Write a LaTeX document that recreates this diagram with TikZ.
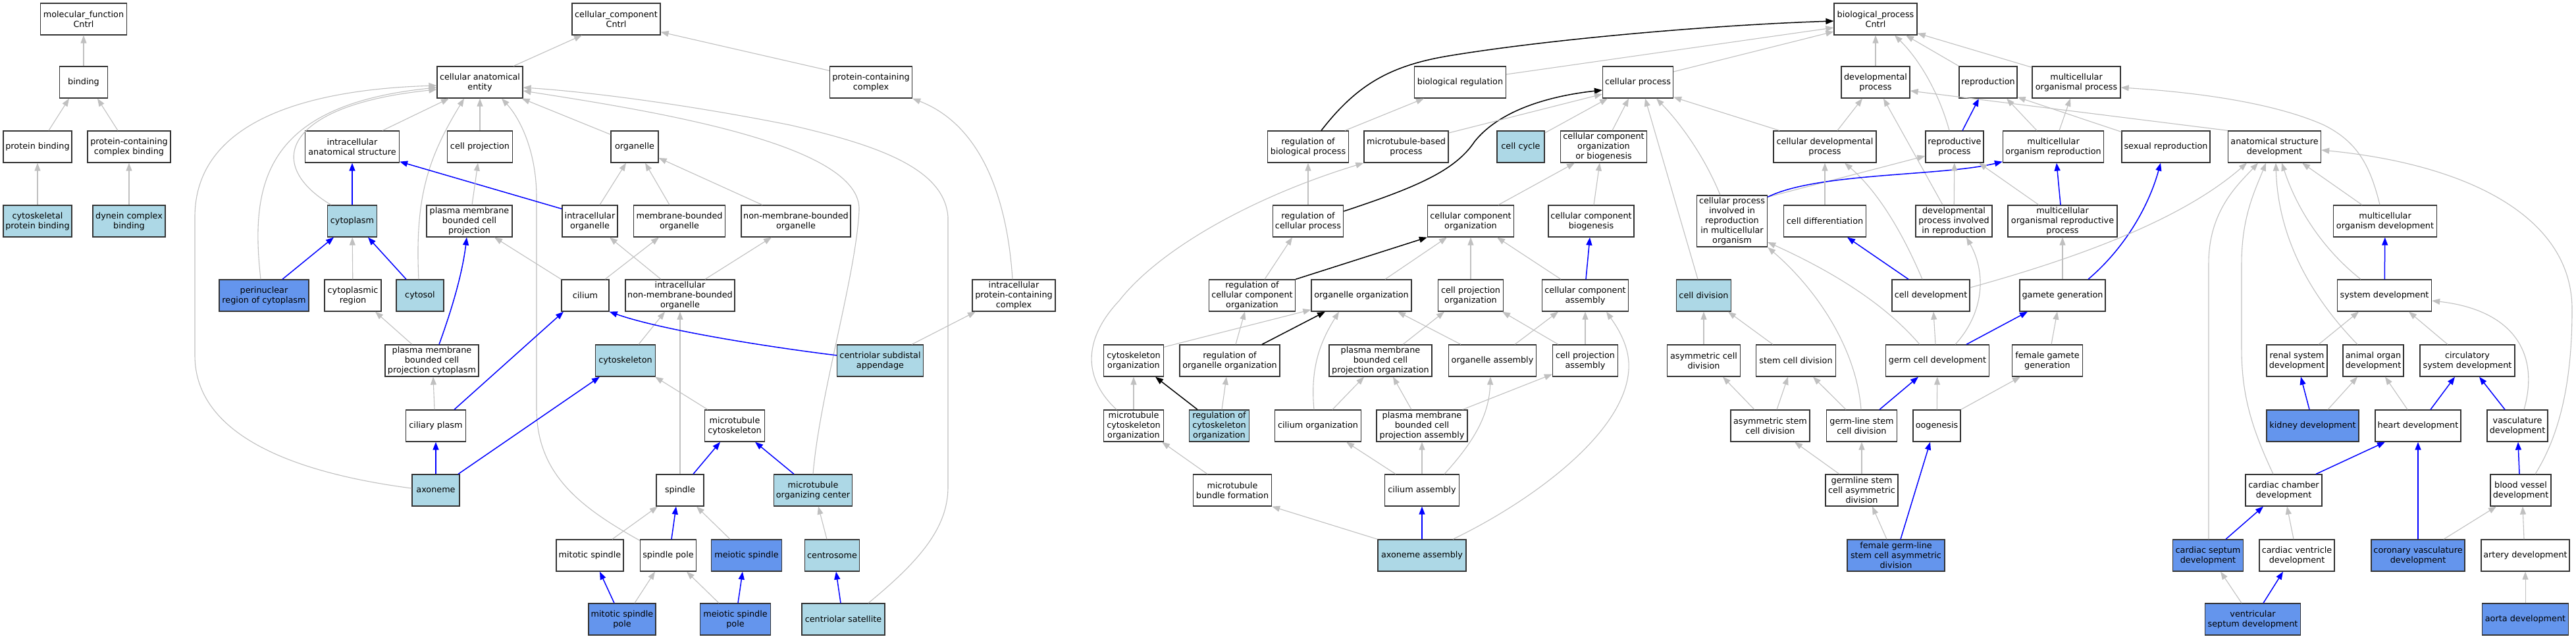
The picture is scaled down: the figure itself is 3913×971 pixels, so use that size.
\documentclass[tikz,border=0pt]{standalone}
\usepackage{fontspec}
\setmainfont{DejaVu Sans}
\usetikzlibrary{arrows.meta}
\definecolor{lblue}{HTML}{ADD8E6}
\definecolor{cblue}{HTML}{6495ED}
\definecolor{egray}{HTML}{C0C0C0}
\definecolor{bord}{HTML}{333333}
\tikzset{
  box/.style={draw=bord, line width=1.3pt, fill=white, minimum height=48pt, inner xsep=1pt, inner ysep=0pt, align=center, font=\fontsize{12.8}{15}\selectfont},
  lb/.style={box, fill=lblue},
  cb/.style={box, fill=cblue},
  ge/.style={draw=egray, line width=1.1pt, -{Triangle[length=12pt,width=9pt]}},
  be/.style={draw=blue, line width=1.5pt, -{Triangle[length=12pt,width=9pt]}},
  ke/.style={draw=black, line width=1.5pt, -{Triangle[length=12pt,width=9pt]}}
}
\begin{document}
\begin{tikzpicture}[x=1pt,y=-1pt]
\fill[white] (0,0) rectangle (3913,971);
\useasboundingbox (0,0) rectangle (3913,971);
% ---------- molecular function ----------
\node[box,minimum width=131pt] (mf) at (127,29) {molecular\_function\\Cntrl};
\node[box,minimum width=73pt] (bind) at (127,125) {binding};
\node[box,minimum width=104pt] (pb) at (57,223) {protein binding};
\node[box,minimum width=126pt] (pccb) at (196,223) {protein-containing\\complex binding};
\node[lb,minimum width=104pt] (cpb) at (57,336) {cytoskeletal\\protein binding};
\node[lb,minimum width=110pt] (dcb) at (196,336) {dynein complex\\binding};
% ---------- cellular component ----------
\node[box,minimum width=134pt] (cc) at (936,29) {cellular\_component\\Cntrl};
\node[box,minimum width=130pt] (cae) at (729,125) {cellular anatomical\\entity};
\node[box,minimum width=125pt] (pcc) at (1323,125) {protein-containing\\complex};
\node[box,minimum width=143pt] (ias) at (535,223) {intracellular\\anatomical structure};
\node[box,minimum width=99pt] (cproj) at (729,223) {cell projection};
\node[box,minimum width=72pt] (org) at (964,223) {organelle};
\node[lb,minimum width=75pt] (cyto) at (535,336) {cytoplasm};
\node[box,minimum width=130pt] (pmbcp) at (713,336) {plasma membrane\\bounded cell\\projection};
\node[box,minimum width=84pt] (io) at (896,336) {intracellular\\organelle};
\node[box,minimum width=139pt] (mbo) at (1032,336) {membrane-bounded\\organelle};
\node[box,minimum width=166pt] (nmbo) at (1209,336) {non-membrane-bounded\\organelle};
\node[cb,minimum width=136pt] (peri) at (401,449) {perinuclear\\region of cytoplasm};
\node[box,minimum width=86pt] (creg) at (536,449) {cytoplasmic\\region};
\node[lb,minimum width=72pt] (cytosol) at (638,449) {cytosol};
\node[box,minimum width=72pt] (cilium) at (889,449) {cilium};
\node[box,minimum width=166pt] (inmbo) at (1033,449) {intracellular\\non-membrane-bounded\\organelle};
\node[box,minimum width=126pt] (ipcc) at (1540,449) {intracellular\\protein-containing\\complex};
\node[box,minimum width=142pt] (pmbcpc) at (656,548) {plasma membrane\\bounded cell\\projection cytoplasm};
\node[lb,minimum width=91pt] (csk) at (950,548) {cytoskeleton};
\node[lb,minimum width=131pt] (csa) at (1337,548) {centriolar subdistal\\appendage};
\node[box,minimum width=91pt] (cplasm) at (662,647) {ciliary plasm};
\node[box,minimum width=91pt] (mtc) at (1116,647) {microtubule\\cytoskeleton};
\node[lb,minimum width=72pt] (axo) at (662,745) {axoneme};
\node[box,minimum width=72pt] (spindle) at (1033,745) {spindle};
\node[lb,minimum width=119pt] (mtoc) at (1235,745) {microtubule\\organizing center};
\node[box,minimum width=102pt] (mitsp) at (896,844) {mitotic spindle};
\node[box,minimum width=85pt] (sppole) at (1015,844) {spindle pole};
\node[cb,minimum width=107pt] (meisp) at (1134,844) {meiotic spindle};
\node[lb,minimum width=83pt] (csome) at (1264,844) {centrosome};
\node[cb,minimum width=102pt] (mitspp) at (945,941) {mitotic spindle\\pole};
\node[cb,minimum width=107pt] (meispp) at (1117,941) {meiotic spindle\\pole};
\node[lb,minimum width=126pt] (csat) at (1281,941) {centriolar satellite};
% ---------- biological process ----------
\node[box,minimum width=126pt] (bp) at (2849,29) {biological\_process\\Cntrl};
\node[box,minimum width=139pt] (breg) at (2218,125) {biological regulation};
\node[box,minimum width=107pt] (cellproc) at (2488,125) {cellular process};
\node[box,minimum width=104pt] (devproc) at (2849,125) {developmental\\process};
\node[box,minimum width=88pt] (repro) at (3020,125) {reproduction};
\node[box,minimum width=134pt] (mop) at (3154,125) {multicellular\\organismal process};
\node[box,minimum width=123pt] (rbp) at (1987,223) {regulation of\\biological process};
\node[box,minimum width=128pt] (mbp) at (2136,223) {microtubule-based\\process};
\node[lb,minimum width=72pt] (ccycle) at (2310,223) {cell cycle};
\node[box,minimum width=131pt] (ccoob) at (2436,223) {cellular component\\organization\\or biogenesis};
\node[box,minimum width=156pt] (cdp) at (2772,223) {cellular developmental\\process};
\node[box,minimum width=88pt] (rp) at (2969,223) {reproductive\\process};
\node[box,minimum width=153pt] (mor) at (3119,223) {multicellular\\organism reproduction};
\node[box,minimum width=134pt] (sr) at (3290,223) {sexual reproduction};
\node[box,minimum width=141pt] (asd) at (3455,223) {anatomical structure\\development};
\node[box,minimum width=107pt] (rcp) at (1987,336) {regulation of\\cellular process};
\node[box,minimum width=131pt] (cco) at (2234,336) {cellular component\\organization};
\node[box,minimum width=130pt] (ccb) at (2417,336) {cellular component\\biogenesis};
\node[box,minimum width=107pt,minimum height=78pt] (cprimo) at (2631,336) {cellular process\\involved in\\reproduction\\in multicellular\\organism};
\node[box,minimum width=125pt] (cdiff) at (2772,336) {cell differentiation};
\node[box,minimum width=116pt] (dpir) at (2968,336) {developmental\\process involved\\in reproduction};
\node[box,minimum width=166pt] (morp) at (3133,336) {multicellular\\organismal reproductive\\process};
\node[box,minimum width=157pt] (mod) at (3623,336) {multicellular\\organism development};
\node[box,minimum width=131pt] (rcco) at (1902,449) {regulation of\\cellular component\\organization};
\node[box,minimum width=152pt] (oo) at (2068,449) {organelle organization};
\node[box,minimum width=99pt] (cpo) at (2234,449) {cell projection\\organization};
\node[box,minimum width=131pt] (cca) at (2408,449) {cellular component\\assembly};
\node[lb,minimum width=83pt] (cdiv) at (2588,449) {cell division};
\node[box,minimum width=118pt] (cdev) at (2933,449) {cell development};
\node[box,minimum width=130pt] (gg) at (3133,449) {gamete generation};
\node[box,minimum width=143pt] (sd) at (3622,449) {system development};
\node[box,minimum width=91pt] (cso) at (1722,548) {cytoskeleton\\organization};
\node[box,minimum width=152pt] (roo) at (1868,548) {regulation of\\organelle organization};
\node[box,minimum width=156pt] (pmbcpo) at (2097,548) {plasma membrane\\bounded cell\\projection organization};
\node[box,minimum width=133pt] (oa) at (2267,548) {organelle assembly};
\node[box,minimum width=99pt] (cpa) at (2408,548) {cell projection\\assembly};
\node[box,minimum width=111pt] (acd) at (2588,548) {asymmetric cell\\division};
\node[box,minimum width=121pt] (scd) at (2728,548) {stem cell division};
\node[box,minimum width=157pt] (gcd) at (2943,548) {germ cell development};
\node[box,minimum width=107pt] (fgg) at (3110,548) {female gamete\\generation};
\node[box,minimum width=92pt] (rsd) at (3489,548) {renal system\\development};
\node[box,minimum width=92pt] (aod) at (3605,548) {animal organ\\development};
\node[box,minimum width=144pt] (csysd) at (3748,548) {circulatory\\system development};
\node[box,minimum width=91pt] (mco) at (1722,647) {microtubule\\cytoskeleton\\organization};
\node[lb,minimum width=91pt] (rco) at (1852,647) {regulation of\\cytoskeleton\\organization};
\node[box,minimum width=131pt] (ciliumorg) at (2002,647) {cilium organization};
\node[box,minimum width=138pt] (pmbcpa) at (2160,647) {plasma membrane\\bounded cell\\projection assembly};
\node[box,minimum width=120pt] (ascd) at (2689,647) {asymmetric stem\\cell division};
\node[box,minimum width=107pt] (glscd) at (2828,647) {germ-line stem\\cell division};
\node[box,minimum width=72pt] (oog) at (2942,647) {oogenesis};
\node[cb,minimum width=140pt] (kd) at (3513,647) {kidney development};
\node[box,minimum width=130pt] (hd) at (3673,647) {heart development};
\node[box,minimum width=92pt] (vd) at (3824,647) {vasculature\\development};
\node[box,minimum width=119pt] (mbf) at (1872,745) {microtubule\\bundle formation};
\node[box,minimum width=113pt] (ciliumasm) at (2160,745) {cilium assembly};
\node[box,minimum width=110pt] (gscad) at (2828,745) {germline stem\\cell asymmetric\\division};
\node[box,minimum width=116pt] (ccd) at (3469,745) {cardiac chamber\\development};
\node[box,minimum width=92pt] (bvd) at (3829,745) {blood vessel\\development};
\node[lb,minimum width=134pt] (axoasm) at (2160,844) {axoneme assembly};
\node[cb,minimum width=148pt] (fglscad) at (2880,844) {female germ-line\\stem cell asymmetric\\division};
\node[cb,minimum width=107pt] (csd) at (3354,844) {cardiac septum\\development};
\node[box,minimum width=114pt] (cvd) at (3489,844) {cardiac ventricle\\development};
\node[cb,minimum width=142pt] (corvd) at (3673,844) {coronary vasculature\\development};
\node[box,minimum width=134pt] (artd) at (3836,844) {artery development};
\node[cb,minimum width=145pt] (vsd) at (3422,941) {ventricular\\septum development};
\node[cb,minimum width=131pt] (aortad) at (3836,941) {aorta development};

% ================= edges: molecular function =================
\draw[ge] (bind) -- (mf);
\draw[ge] ([xshift=17pt]pb.north) -- ([xshift=-22pt]bind.south);
\draw[ge] ([xshift=-17pt]pccb.north) -- ([xshift=21pt]bind.south);
\draw[ge] (cpb) -- (pb);
\draw[ge] (dcb) -- (pccb);

% ================= edges: cellular component =================
\draw[ge] ([xshift=51pt]cae.north) -- ([xshift=-52pt]cc.south);
\draw[ge] ([yshift=-7pt]pcc.north west) -- ([yshift=5pt]cc.south east);
\draw[ge] ([xshift=46pt]ias.north) -- ([xshift=-47pt]cae.south);
\draw[ge] ([xshift=-32pt]cyto.north) .. controls (400,250) and (430,160) .. ([yshift=-11pt]cae.west);
\draw[ge] ([xshift=-5pt]peri.north) .. controls (380,280) and (400,160) .. ([yshift=-8pt]cae.west);
\draw[ge] ([yshift=3pt]axo.west) .. controls (420,715) and (296,650) .. (296,540) -- (296,330) .. controls (296,170) and (500,135) .. ([yshift=-5pt]cae.west);
\draw[ge] ([xshift=-2pt]cytosol.north) .. controls (630,300) and (650,240) .. ([xshift=-24pt]cae.south);
\draw[ge] (cproj) -- (cae);
\draw[ge] ([yshift=-6pt]org.north west) -- ([xshift=-2pt]cae.south east);
\draw[ge] ([yshift=-2pt]sppole.north west) .. controls (880,770) and (815,720) .. (815,620) -- (815,300) .. controls (815,230) and (790,180) .. ([xshift=33pt]cae.south);
\draw[ge] ([xshift=38pt]csat.north) .. controls (1400,850) and (1440,800) .. (1440,740) -- (1440,330) .. controls (1435,255) and (1330,220) .. (1200,190) .. controls (1050,160) and (900,140) .. ([yshift=-8pt]cae.east);
\draw[ge] (mtoc.north) .. controls (1245,600) and (1300,420) .. (1305,320) .. controls (1310,220) and (1000,170) .. ([yshift=-13pt]cae.east);
\draw[ge] ([xshift=-2pt]ipcc.north) .. controls (1530,300) and (1490,190) .. (pcc.south east);
\draw[ge] ([xshift=48pt]csa.north) -- ([xshift=-58pt]ipcc.south);
\draw[be] (cyto) -- (ias);
\draw[be] ([yshift=-6pt]io.north west) -- ([yshift=2pt]ias.south east);
\draw[be] ([xshift=28pt]peri.north) -- ([xshift=-28pt]cyto.south);
\draw[ge] (creg) -- (cyto);
\draw[be] ([xshift=-21pt]cytosol.north) -- ([xshift=24pt]cyto.south);
\draw[ge] ([xshift=-30pt]pmbcpc.north) -- ([xshift=34pt]creg.south);
\draw[be] ([xshift=11pt]pmbcpc.north) .. controls (690,460) and (703,410) .. ([xshift=-4pt]pmbcp.south);
\draw[ge] ([xshift=-2pt]cplasm.north) -- ([xshift=2pt]pmbcpc.south);
\draw[be] ([xshift=28pt]cplasm.north) -- ([xshift=-33pt]cilium.south);
\draw[be] (axo) -- (cplasm);
\draw[be] ([xshift=34pt]axo.north) -- ([xshift=-39pt]csk.south);
\draw[ge] (cilium.north west) -- ([xshift=38pt]pmbcp.south);
\draw[ge] ([xshift=30pt]cilium.north) -- ([xshift=-31pt]mbo.south);
\draw[ge] ([xshift=4pt]pmbcp.north) -- ([xshift=-3pt]cproj.south);
\draw[ge] ([xshift=15pt]io.north) -- ([xshift=-13pt]org.south);
\draw[ge] ([xshift=-15pt]mbo.north) -- ([xshift=16pt]org.south);
\draw[ge] ([xshift=-51pt]nmbo.north) -- ([yshift=-17pt]org.east);
\draw[ge] ([xshift=-29pt]inmbo.north) -- ([xshift=30pt]io.south);
\draw[ge] ([xshift=38pt]inmbo.north) -- ([xshift=-37pt]nmbo.south);
\draw[ge] ([xshift=20pt]csk.north) -- ([xshift=-23pt]inmbo.south);
\draw[ge] (spindle) -- (inmbo);
\draw[be] ([yshift=8pt]csa.west) .. controls (1150,525) and (1000,500) .. (cilium.south east);
\draw[ge] ([xshift=-41pt]mtc.north) -- ([xshift=-1pt]csk.south east);
\draw[be] ([xshift=20pt]spindle.north) -- ([xshift=-22pt]mtc.south);
\draw[be] ([xshift=-29pt]mtoc.north) -- ([xshift=31pt]mtc.south);
\draw[ge] ([xshift=34pt]mitsp.north) -- ([xshift=-34pt]spindle.south);
\draw[be] ([xshift=5pt]sppole.north) -- ([xshift=-6pt]spindle.south);
\draw[ge] ([xshift=-25pt]meisp.north) -- ([xshift=25pt]spindle.south);
\draw[ge] ([xshift=-8pt]csome.north) -- ([xshift=8pt]mtoc.south);
\draw[be] ([xshift=-12pt]mitspp.north) -- ([xshift=15pt]mitsp.south);
\draw[ge] ([xshift=19pt]mitspp.north) -- ([xshift=-20pt]sppole.south);
\draw[ge] ([xshift=-25pt]meispp.north) -- ([xshift=28pt]sppole.south);
\draw[be] ([xshift=4pt]meispp.north) -- ([xshift=-6pt]meisp.south);
\draw[be] ([xshift=-4pt]csat.north) -- ([xshift=6pt]csome.south);

% ================= edges: biological process =================
\draw[ke] ([xshift=20pt]rbp.north) .. controls (2060,130) and (2110,100) .. (2200,85) .. controls (2350,60) and (2600,38) .. ([yshift=-3pt]bp.west);
\draw[ge] ([yshift=12pt]breg.east) -- ([yshift=-13pt]bp.west);
\draw[ge] ([yshift=16pt]cellproc.east) -- ([yshift=-19pt]bp.west);
\draw[ge] (devproc) -- (bp);
\draw[ge] ([xshift=-8pt]rp.north) .. controls (2945,140) and (2915,90) .. ([xshift=29pt]bp.south);
\draw[ge] (repro.north west) -- ([xshift=46pt]bp.south);
\draw[ge] ([yshift=-2pt]mop.north west) -- ([yshift=3pt]bp.south east);
\draw[ge] ([xshift=56pt]rbp.north) -- ([xshift=-55pt]breg.south);
\draw[ke] ([yshift=15pt]rcp.east) .. controls (2150,285) and (2210,260) .. (2240,215) .. controls (2280,165) and (2360,145) .. ([yshift=-12pt]cellproc.west);
\draw[ge] (rcp) -- (rbp);
\draw[ge] ([yshift=21pt]mbp.east) -- ([yshift=-18pt]cellproc.west);
\draw[ge] ([yshift=21pt]ccycle.east) -- ([xshift=-46pt]cellproc.south);
\draw[ge] ([xshift=13pt]ccoob.north) -- ([xshift=-14pt]cellproc.south);
\draw[ge] ([xshift=-9pt]cdiv.north) -- ([xshift=11pt]cellproc.south);
\draw[ge] ([xshift=-18pt]cprimo.north) .. controls (2590,240) and (2555,190) .. ([xshift=28pt]cellproc.south);
\draw[ge] ([xshift=-69pt]cdp.north) -- ([yshift=2pt]cellproc.south east);
\draw[ge] ([xshift=-26pt]mco.north) .. controls (1640,570) and (1650,510) .. (1700,457) .. controls (1760,380) and (1900,300) .. (mbp.south west);
\draw[ge] ([xshift=42pt]cco.north) -- ([xshift=-44pt]ccoob.south);
\draw[ge] ([xshift=4pt]ccb.north) -- ([xshift=-6pt]ccoob.south);
\draw[be] ([xshift=1pt]cca.north) -- ([xshift=-2pt]ccb.south);
\draw[ke] (rcco.north east) -- (cco.south west);
\draw[ge] ([xshift=19pt]rcco.north) -- ([xshift=-24pt]rcp.south);
\draw[ge] ([xshift=36pt]oo.north) -- ([xshift=-36pt]cco.south);
\draw[ge] (cpo) -- (cco);
\draw[ge] ([xshift=-37pt]cca.north) -- ([xshift=40pt]cco.south);
\draw[ge] (acd) -- (cdiv);
\draw[ge] ([xshift=-35pt]scd.north) -- ([xshift=37pt]cdiv.south);
\draw[ge] ([yshift=-4pt]cso.north east) -- ([yshift=3pt]oo.south west);
\draw[ge] ([xshift=9pt]roo.north) -- ([xshift=-11pt]rcco.south);
\draw[ke] ([xshift=49pt]roo.north) -- ([xshift=-55pt]oo.south);
\draw[ke] ([xshift=-33pt]rco.north) -- ([xshift=33pt]cso.south);
\draw[ge] ([xshift=4pt]rco.north) -- ([xshift=-5pt]roo.south);
\draw[ge] (mco) -- (cso);
\draw[ge] ([xshift=-38pt]mbf.north) -- ([xshift=43pt]mco.south);
\draw[ge] (axoasm.north west) -- (mbf.south east);
\draw[ge] ([xshift=-6pt]ciliumorg.north) .. controls (1990,560) and (2005,520) .. ([xshift=-34pt]oo.south);
\draw[ge] ([xshift=-48pt]oa.north) -- ([xshift=55pt]oo.south);
\draw[ge] ([xshift=34pt]pmbcpo.north) -- ([xshift=-40pt]cpo.south);
\draw[ge] ([xshift=-41pt]cpa.north) -- ([xshift=48pt]cpo.south);
\draw[ge] ([xshift=34pt]oa.north) -- ([xshift=-41pt]cca.south);
\draw[ge] (cpa) -- (cca);
\draw[ge] ([xshift=47pt]axoasm.north) .. controls (2330,760) and (2480,650) .. (2474,550) .. controls (2472,520) and (2455,495) .. ([xshift=32pt]cca.south);
\draw[ge] ([xshift=22pt]ciliumorg.north) -- ([xshift=-25pt]pmbcpo.south);
\draw[ge] ([xshift=-16pt]pmbcpa.north) -- ([xshift=19pt]pmbcpo.south);
\draw[ge] ([xshift=-8pt]pmbcpa.north east) -- ([yshift=4pt]cpa.south west);
\draw[ge] ([xshift=-40pt]ciliumasm.north) -- ([xshift=43pt]ciliumorg.south);
\draw[ge] (ciliumasm) -- (pmbcpa);
\draw[ge] ([xshift=34pt]ciliumasm.north) .. controls (2240,670) and (2262,630) .. ([xshift=-3pt]oa.south);
\draw[be] (axoasm) -- (ciliumasm);

\draw[ge] ([xshift=19pt]cdp.north) -- ([xshift=-20pt]devproc.south);
\draw[ge] ([xshift=-17pt]dpir.north) -- ([xshift=12pt]devproc.south);
\draw[ge] ([xshift=-13pt]cdev.north) .. controls (2880,330) and (2840,280) .. ([xshift=30pt]cdp.south);
\draw[be] ([xshift=12pt]rp.north) -- ([xshift=-14pt]repro.south);
\draw[ge] ([xshift=-25pt]mor.north) -- ([xshift=28pt]repro.south);
\draw[ge] ([xshift=9pt]mor.north) -- ([xshift=-9pt]mop.south);
\draw[ge] ([yshift=-2pt]sr.north west) -- ([yshift=2pt]repro.south east);
\draw[ge] (asd.north west) -- ([yshift=-13pt]devproc.east);
\draw[ge] ([xshift=-8pt]mod.north) .. controls (3600,250) and (3580,215) .. (3530,190) .. controls (3440,150) and (3300,138) .. ([yshift=-8pt]mop.east);
\draw[ge] ([yshift=-3pt]cprimo.north east) -- ([yshift=-14pt]rp.west);
\draw[be] ([yshift=-3pt]cprimo.north east) .. controls (2760,262) and (2950,268) .. ([yshift=2pt]mor.south west);
\draw[ge] (cdiff) -- (cdp);
\draw[ge] (dpir) -- (rp);
\draw[ge] ([xshift=-36pt]morp.north) -- ([xshift=37pt]rp.south);
\draw[be] ([xshift=-3pt]morp.north) -- ([xshift=5pt]mor.south);
\draw[be] ([xshift=-34pt]cdev.north) -- ([xshift=34pt]cdiff.south);
\draw[ge] (gg) -- (morp);
\draw[be] ([xshift=39pt]gg.north) .. controls (3230,375) and (3265,310) .. ([xshift=-8pt]sr.south);
\draw[ge] ([yshift=12pt]cdev.east) .. controls (3200,380) and (3330,320) .. ([xshift=-42pt]asd.south);
\draw[ge] ([xshift=-27pt]gcd.north) .. controls (2870,470) and (2800,420) .. ([yshift=-32pt]cprimo.east);
\draw[ge] ([xshift=-1pt]glscd.north) .. controls (2820,530) and (2760,440) .. (cprimo.south east);
\draw[ge] ([xshift=27pt]gcd.north) .. controls (3010,480) and (3020,420) .. ([xshift=19pt]dpir.south);
\draw[ge] ([xshift=-3pt]gcd.north) -- ([xshift=4pt]cdev.south);
\draw[be] ([xshift=44pt]gcd.north) -- ([xshift=-53pt]gg.south);
\draw[ge] ([xshift=6pt]fgg.north) -- ([xshift=-8pt]gg.south);
\draw[ge] ([xshift=-24pt]ascd.north) -- ([xshift=29pt]acd.south);
\draw[ge] ([xshift=10pt]ascd.north) -- ([xshift=-12pt]scd.south);
\draw[ge] ([xshift=-24pt]glscd.north) -- ([xshift=26pt]scd.south);
\draw[be] ([xshift=27pt]glscd.north) -- ([xshift=-29pt]gcd.south);
\draw[ge] (oog) -- (gcd);
\draw[ge] (oog.north east) -- ([xshift=-41pt]fgg.south);
\draw[ge] ([xshift=-34pt]gscad.north) -- ([xshift=37pt]ascd.south);
\draw[ge] (gscad) -- (glscd);
\draw[ge] ([xshift=-14pt]fglscad.north) -- ([xshift=16pt]gscad.south);
\draw[be] ([xshift=7pt]fglscad.north) -- ([xshift=-10pt]oog.south);

\draw[ge] ([xshift=-35pt]mod.north) -- ([xshift=42pt]asd.south);
\draw[ge] ([xshift=-36pt]sd.north) .. controls (3530,380) and (3490,320) .. ([xshift=11pt]asd.south);
\draw[ge] ([xshift=-24pt]aod.north) .. controls (3500,440) and (3460,350) .. ([xshift=2pt]asd.south);
\draw[ge] ([xshift=-16pt]ccd.north) .. controls (3420,650) and (3405,600) .. (3405,530) -- (3405,400) .. controls (3405,330) and (3425,290) .. ([xshift=-13pt]asd.south);
\draw[ge] ([xshift=1pt]csd.north) -- (3355,400) .. controls (3355,320) and (3400,280) .. ([xshift=-25pt]asd.south);
\draw[ge] ([xshift=22pt]bvd.north) .. controls (3895,650) and (3907,560) .. (3907,470) .. controls (3907,330) and (3750,250) .. ([yshift=-5pt]asd.east);
\draw[be] (sd) -- (mod);
\draw[ge] ([xshift=33pt]rsd.north) -- ([xshift=-39pt]sd.south);
\draw[ge] ([xshift=-30pt]csysd.north) -- ([xshift=37pt]sd.south);
\draw[ge] ([xshift=10pt]vd.north) .. controls (3860,530) and (3810,470) .. ([yshift=-8pt]sd.east);
\draw[be] ([xshift=-5pt]kd.north) -- ([xshift=6pt]rsd.south);
\draw[ge] ([xshift=23pt]kd.north) -- ([xshift=-24pt]aod.south);
\draw[ge] ([xshift=-16pt]hd.north) -- ([xshift=18pt]aod.south);
\draw[be] ([xshift=19pt]hd.north) -- ([xshift=-19pt]csysd.south);
\draw[be] ([xshift=-19pt]vd.north) -- ([xshift=18pt]csysd.south);
\draw[be] ([xshift=49pt]ccd.north) -- ([xshift=-50pt]hd.south);
\draw[be] (corvd) -- (hd);
\draw[be] ([xshift=-2pt]bvd.north) -- ([xshift=1pt]vd.south);
\draw[be] ([xshift=27pt]csd.north) -- ([xshift=-31pt]ccd.south);
\draw[ge] ([xshift=-5pt]cvd.north) -- ([xshift=5pt]ccd.south);
\draw[ge] ([xshift=39pt]corvd.north) -- ([xshift=-37pt]bvd.south);
\draw[ge] ([xshift=-2pt]artd.north) -- ([xshift=3pt]bvd.south);
\draw[ge] ([xshift=-17pt]vsd.north) -- ([xshift=19pt]csd.south);
\draw[be] ([xshift=16pt]vsd.north) -- ([xshift=-21pt]cvd.south);
\draw[ge] (aortad) -- (artd);
\end{tikzpicture}
\end{document}
